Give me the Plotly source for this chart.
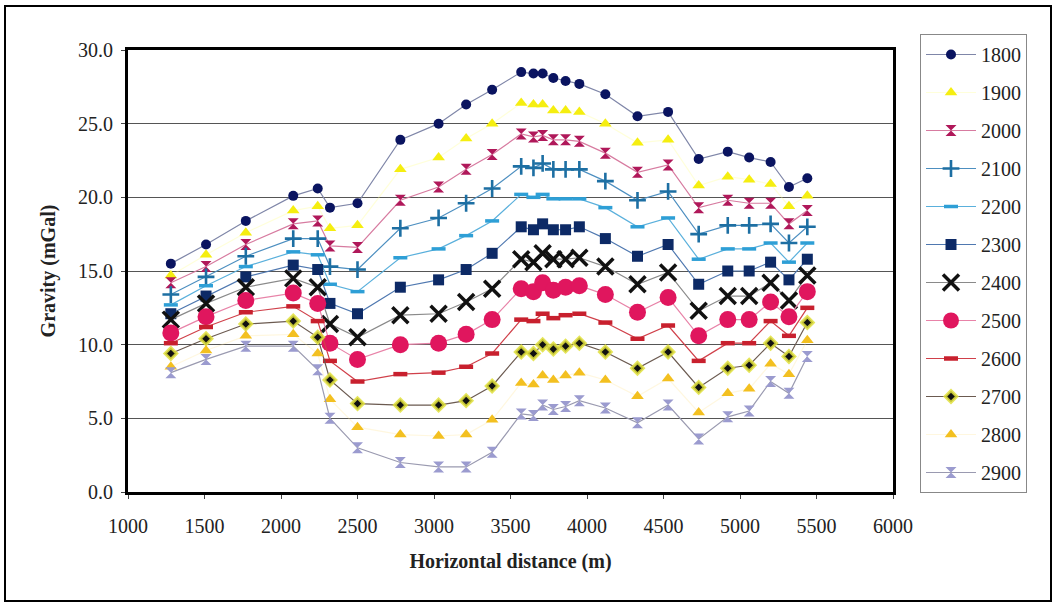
import plotly.graph_objects as go

distance = [1280, 1510, 1770, 2080, 2240, 2320, 2500, 2780, 3030, 3210, 3380,
            3570, 3650, 3710, 3780, 3860, 3950, 4120, 4330, 4530, 4730, 4920,
            5060, 5200, 5320, 5440]

s1800 = [15.5, 16.8, 18.4, 20.1, 20.6, 19.3, 19.6, 23.9, 25.0, 26.3, 27.3, 28.5, 28.4, 28.4, 28.1, 27.9, 27.7, 27.0, 25.5, 25.8, 22.6, 23.1, 22.7, 22.4, 20.7, 21.3]
s1900 = [14.7, 16.1, 17.6, 19.1, 19.4, 17.9, 18.1, 21.9, 22.7, 24.0, 25.0, 26.4, 26.3, 26.3, 25.9, 25.9, 25.8, 25.0, 23.7, 23.9, 20.8, 21.4, 21.2, 20.9, 19.4, 20.1]
s2000 = [14.2, 15.3, 16.8, 18.2, 18.4, 16.7, 16.6, 19.8, 20.7, 21.9, 22.9, 24.3, 24.1, 24.2, 23.9, 23.9, 23.8, 23.0, 21.7, 22.2, 19.3, 19.8, 19.6, 19.6, 18.2, 19.1]
s2100 = [13.4, 14.6, 16.0, 17.2, 17.2, 15.3, 15.1, 17.9, 18.6, 19.6, 20.6, 22.1, 22.0, 22.3, 21.9, 21.9, 21.9, 21.1, 19.8, 20.4, 17.5, 18.1, 18.1, 18.2, 16.9, 18.0]
s2200 = [12.7, 14.0, 15.3, 16.3, 16.1, 14.1, 13.6, 15.9, 16.5, 17.4, 18.4, 20.2, 20.0, 20.2, 19.9, 19.9, 19.9, 19.3, 18.0, 18.6, 15.8, 16.5, 16.5, 16.9, 15.6, 16.9]
s2300 = [12.1, 13.3, 14.6, 15.4, 15.1, 12.8, 12.1, 13.9, 14.4, 15.1, 16.2, 18.0, 17.8, 18.2, 17.8, 17.8, 18.0, 17.2, 16.0, 16.8, 14.1, 15.0, 15.0, 15.6, 14.4, 15.8]
s2400 = [11.7, 12.8, 13.9, 14.5, 13.9, 11.4, 10.5, 12.0, 12.1, 12.9, 13.8, 15.8, 15.6, 16.2, 15.8, 15.8, 15.9, 15.3, 14.1, 14.9, 12.3, 13.3, 13.3, 14.2, 13.0, 14.7]
s2500 = [10.8, 11.9, 13.0, 13.5, 12.8, 10.1, 9.0, 10.0, 10.1, 10.7, 11.7, 13.8, 13.6, 14.2, 13.7, 13.9, 14.0, 13.4, 12.2, 13.2, 10.6, 11.7, 11.7, 12.9, 11.9, 13.6]
s2600 = [10.1, 11.2, 12.2, 12.6, 11.6, 8.9, 7.5, 8.0, 8.1, 8.5, 9.4, 11.7, 11.6, 12.1, 11.8, 12.0, 12.1, 11.5, 10.4, 11.3, 8.9, 10.1, 10.1, 11.6, 10.6, 12.5]
s2700 = [9.4, 10.4, 11.4, 11.6, 10.5, 7.6, 6.0, 5.9, 5.9, 6.2, 7.2, 9.5, 9.4, 10.0, 9.7, 9.9, 10.1, 9.5, 8.4, 9.5, 7.1, 8.4, 8.6, 10.1, 9.2, 11.5]
s2800 = [8.5, 9.6, 10.6, 10.7, 9.4, 6.3, 4.4, 3.9, 3.8, 3.9, 4.9, 7.4, 7.3, 7.9, 7.6, 7.9, 8.1, 7.6, 6.5, 7.7, 5.4, 6.7, 7.0, 8.7, 8.0, 10.3]
s2900 = [8.1, 9.0, 9.9, 9.9, 8.3, 5.0, 3.0, 2.0, 1.7, 1.7, 2.7, 5.3, 5.2, 5.9, 5.6, 5.8, 6.2, 5.7, 4.7, 5.9, 3.6, 5.1, 5.5, 7.5, 6.7, 9.2]

names = ["1800", "1900", "2000", "2100", "2200", "2300",
         "2400", "2500", "2600", "2700", "2800", "2900"]
series = [s1800, s1900, s2000, s2100, s2200, s2300,
          s2400, s2500, s2600, s2700, s2800, s2900]

# style per series: (line colour, marker dict)
styles = [
    ("#7f86a8", dict(symbol="circle", size=10, color="#0a1460")),
    ("rgba(255,255,150,0.35)", dict(symbol="triangle-up", size=11, color="#f5ee10")),
    ("#d77ba0", dict(symbol="hourglass", size=11, color="#b0185a")),
    ("#4d8fc0", dict(symbol="cross-thin-open", size=12, color="#1d6fa3", line=dict(width=2.6, color="#1d6fa3"))),
    ("#5ab0dc", dict(symbol="line-ew-open", size=10, color="#2e9fd6", line=dict(width=3.5, color="#2e9fd6"))),
    ("#4f78b0", dict(symbol="square", size=11, color="#0d2a66")),
    ("#8a8a8a", dict(symbol="x-thin-open", size=16, color="#111111", line=dict(width=3.5, color="#111111"))),
    ("#e883a8", dict(symbol="circle", size=17, color="#e0165e")),
    ("#d0404a", dict(symbol="line-ew-open", size=10, color="#c8202e", line=dict(width=4.5, color="#c8202e"))),
    ("#6b5a50", dict(symbol="diamond", size=9, color="#111111", line=dict(width=3, color="rgba(225,225,60,0.85)"))),
    ("rgba(255,230,150,0.3)", dict(symbol="triangle-up", size=11, color="#f3c020")),
    ("#9a9ab0", dict(symbol="hourglass", size=11, color="#9b9bcf")),
]

fig = go.Figure()
for name, ys, (lc, mk) in zip(names, series, styles):
    fig.add_trace(go.Scatter(
        x=distance, y=ys, name=name, mode="lines+markers",
        line=dict(color=lc, width=1.2), marker=mk, legendgroup=name,
    ))

L, R, T, B = 128, 893, 50, 492
W, H = 1057, 607
pw, ph = R - L, B - T

def px(x):
    return (x - L) / pw

def py(y):
    return (B - y) / ph

font_family = "Liberation Serif, Times New Roman, serif"

fig.update_layout(
    width=W, height=H,
    margin=dict(l=L, r=W - R, t=T, b=H - B),
    paper_bgcolor="white", plot_bgcolor="white",
    font=dict(family=font_family, size=20, color="#222222"),
    showlegend=True,
    legend=dict(
        x=px(920), y=py(34), xanchor="left", yanchor="top",
        bgcolor="white", bordercolor="#888888", borderwidth=1,
        font=dict(family=font_family, size=20, color="#222222"),
        tracegroupgap=9, itemwidth=50, maxheight=520,
    ),
    xaxis=dict(
        range=[1000, 6000], dtick=500, tick0=1000,
        showgrid=False, zeroline=False,
        showline=True, linecolor="black", linewidth=3, mirror=True,
        ticks="outside", ticklen=4, tickcolor="#444444",
        ticklabelstandoff=10,
        tickfont=dict(family=font_family, size=20),
        title=dict(text="<b>Horizontal distance (m)</b>", standoff=18,
                   font=dict(family=font_family, size=20)),
    ),
    yaxis=dict(
        range=[0, 30], dtick=5, tickformat=".1f",
        showgrid=True, gridcolor="#555555", gridwidth=1,
        zeroline=False,
        showline=True, linecolor="black", linewidth=3, mirror=True,
        ticks="outside", ticklen=4, tickcolor="#444444",
        ticklabelstandoff=4,
        tickfont=dict(family=font_family, size=20),
        title=dict(text="<b>Gravity (mGal)</b>", standoff=18,
                   font=dict(family=font_family, size=20)),
    ),
    shapes=[
        dict(type="rect", xref="paper", yref="paper",
             x0=px(5), x1=px(1051), y0=py(601), y1=py(6),
             line=dict(color="black", width=2), fillcolor="rgba(0,0,0,0)",
             layer="below"),
    ],
)

fig.write_html("out.html")
